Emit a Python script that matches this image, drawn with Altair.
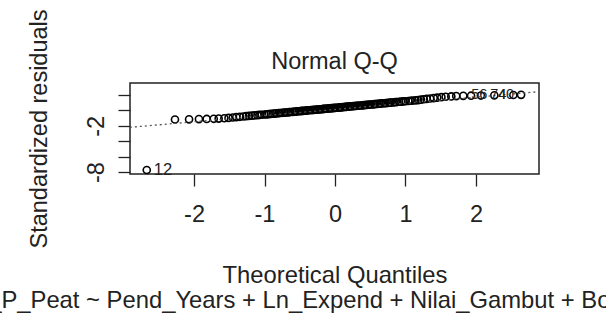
import altair as alt
import pandas as pd

# ---- data ----
theoretical = [
    -2.67, -2.27, -2.07, -1.93, -1.82, -1.72, -1.65, -1.57, -1.51, -1.45,
    -1.40, -1.35, -1.30, -1.26, -1.22, -1.18, -1.14, -1.10, -1.07, -1.04,
    -1.00, -0.97, -0.94, -0.91, -0.88, -0.86, -0.83, -0.80, -0.78, -0.75,
    -0.72, -0.70, -0.67, -0.65, -0.63, -0.60, -0.58, -0.56, -0.54, -0.51,
    -0.49, -0.47, -0.45, -0.43, -0.41, -0.39, -0.37, -0.34, -0.32, -0.30,
    -0.28, -0.26, -0.24, -0.22, -0.20, -0.18, -0.16, -0.15, -0.13, -0.11,
    -0.09, -0.07, -0.05, -0.03, -0.01,
    0.01, 0.03, 0.05, 0.07, 0.09, 0.11, 0.13, 0.15, 0.16, 0.18,
    0.20, 0.22, 0.24, 0.26, 0.28, 0.30, 0.32, 0.34, 0.37, 0.39,
    0.41, 0.43, 0.45, 0.47, 0.49, 0.51, 0.54, 0.56, 0.58, 0.60,
    0.63, 0.65, 0.67, 0.70, 0.72, 0.75, 0.78, 0.80, 0.83, 0.86,
    0.88, 0.91, 0.94, 0.97, 1.00, 1.04, 1.07, 1.10, 1.14, 1.18,
    1.22, 1.26, 1.30, 1.35, 1.40, 1.45, 1.51, 1.57, 1.65, 1.72,
    1.82, 1.93, 2.07, 2.26, 2.53, 2.64,
]
std_resid = [
    -7.74, -1.18, -1.16, -1.13, -1.11, -1.09, -1.06, -1.02, -0.97, -0.92,
    -0.87, -0.83, -0.79, -0.75, -0.72, -0.68, -0.65, -0.62, -0.59, -0.56,
    -0.53, -0.51, -0.48, -0.46, -0.43, -0.41, -0.38, -0.36, -0.34, -0.31,
    -0.29, -0.27, -0.25, -0.23, -0.21, -0.19, -0.17, -0.15, -0.13, -0.11,
    -0.09, -0.07, -0.06, -0.04, -0.02, 0.00, 0.02, 0.03, 0.05, 0.07,
    0.09, 0.10, 0.12, 0.14, 0.15, 0.17, 0.19, 0.21, 0.22, 0.24,
    0.26, 0.27, 0.29, 0.30, 0.32,
    0.34, 0.35, 0.37, 0.39, 0.40, 0.42, 0.44, 0.45, 0.47, 0.49,
    0.51, 0.52, 0.54, 0.56, 0.57, 0.59, 0.61, 0.63, 0.64, 0.66,
    0.68, 0.70, 0.72, 0.73, 0.75, 0.77, 0.79, 0.81, 0.83, 0.85,
    0.87, 0.89, 0.91, 0.93, 0.95, 0.97, 1.00, 1.02, 1.04, 1.07,
    1.09, 1.12, 1.14, 1.17, 1.19, 1.22, 1.25, 1.28, 1.31, 1.34,
    1.40, 1.45, 1.50, 1.55, 1.60, 1.66, 1.72, 1.77, 1.82, 1.86,
    1.89, 1.91, 1.93, 1.96, 2.00, 2.02,
]
point_labels = {0: "12", 128: "56", 129: "74", 130: "40"}

qqline_x = [-2.91, 2.89]
qqline_y = [-2.20, 2.43]

x_ticks = [-2, -1, 0, 1, 2]
y_ticks = [-8, -6, -4, -2, 0, 2]
y_ticks_labelled = [-8, -2]

chart_title = "Normal Q-Q"
x_title = "Theoretical Quantiles"
y_title = "Standardized residuals"
caption = "lm(Luas_P_Peat ~ Pend_Years + Ln_Expend + Nilai_Gambut + Border_Distance)"

# ---- tables ----
df = pd.DataFrame({"x": theoretical, "y": std_resid})
df["label"] = [point_labels.get(i, "") for i in range(len(df))]
df["side"] = ["left" if v < 0 else "right" for v in df["x"]]
line_df = pd.DataFrame({"x": qqline_x, "y": qqline_y})

FONT = "Liberation Sans"
INK = "#222222"
W, H = 409, 91

xscale = alt.Scale(domain=[-2.908, 2.894], nice=False, zero=False)
yscale = alt.Scale(domain=[-8.26, 3.56], nice=False, zero=False)

shown = " || ".join(f"datum.value == {v}" for v in y_ticks_labelled)

xaxis = alt.Axis(
    values=x_ticks,
    labelExpr="toString(datum.value)",
    labelBaseline="alphabetic",
    labelPadding=35,
    title=[x_title, caption],
    titleX=W / 2,
    titleY=108,
    titleAlign="center",
    titleBaseline="alphabetic",
    titleLineHeight=25,
    titleFontSize=23.8,
)
yaxis = alt.Axis(
    values=y_ticks,
    labelExpr=f"({shown}) ? toString(datum.value) : ''",
    labelAngle=270,
    labelAlign="center",
    labelBaseline="alphabetic",
    labelPadding=15,
    title=y_title,
    titleAngle=270,
    titleX=-84,
    titleY=H / 2,
    titleAlign="center",
    titleBaseline="alphabetic",
)

X = alt.X("x:Q", scale=xscale, axis=xaxis)
Y = alt.Y("y:Q", scale=yscale, axis=yaxis)

points = alt.Chart(df).mark_point(
    shape="circle", filled=False, size=50, strokeWidth=1.6, color="black", opacity=1
).encode(x=X, y=Y)

qqline = alt.Chart(line_df).mark_line(
    strokeDash=[2, 3], color="#555555", strokeWidth=1.3
).encode(x=X, y=Y)

lab_left = alt.Chart(df).transform_filter(
    "datum.label != '' && datum.side == 'left'"
).mark_text(align="left", baseline="middle", dx=7, font=FONT, fontSize=16.5, color=INK).encode(
    x=X, y=Y, text="label:N"
)
lab_right = alt.Chart(df).transform_filter(
    "datum.label != '' && datum.side == 'right'"
).mark_text(align="right", baseline="middle", dx=-7, font=FONT, fontSize=14.5, color=INK).encode(
    x=X, y=Y, text="label:N"
)

chart = alt.layer(points, qqline, lab_left, lab_right).properties(
    width=W,
    height=H,
    autosize=alt.AutoSizeParams(type="none"),
    padding={"left": 130, "top": 83, "right": 67, "bottom": 146},
    background="white",
    title=alt.TitleParams(
        text=chart_title, frame="group", anchor="middle", baseline="alphabetic",
        offset=11, dy=95
    ),
).configure_view(
    stroke=INK, strokeWidth=1.5
).configure_axis(
    grid=False, domain=False, tickColor=INK, tickSize=12, tickWidth=1.3,
    labelFont=FONT, labelFontSize=23.5, labelColor=INK,
    titleFont=FONT, titleFontSize=23.5, titleColor=INK, titleFontWeight="normal",
).configure_title(
    font=FONT, fontSize=23.5, fontWeight="normal", color=INK
)

chart.save("out.html", embed_options={"renderer": "svg", "actions": False})
